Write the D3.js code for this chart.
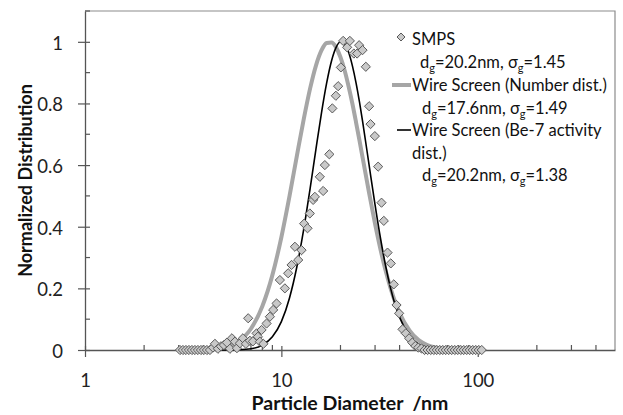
<!DOCTYPE html>
<html>
<head>
<meta charset="utf-8">
<script src="https://cdn.jsdelivr.net/npm/d3@7"></script>
<style>
  html, body { margin: 0; padding: 0; background: #fff; }
  svg { display: block; font-family: Lato, "Open Sans", sans-serif; }
</style>
</head>
<body>
<div id="chart"></div>
<script>
// SMPS measured points (diameter in nm, normalized value)
const smpsDiameter = [
  3.045, 3.153, 3.266, 3.383, 3.504, 3.629, 3.759, 3.894, 4.033, 4.177, 4.327,
  4.482, 4.587, 4.752, 4.922, 5.098, 5.280, 5.469, 5.599, 5.800, 5.937, 6.150,
  6.370, 6.597, 6.776, 6.914, 7.161, 7.478, 7.593, 7.773, 7.929, 8.098, 8.408,
  8.739, 9.084, 9.454, 9.827, 10.42, 10.83, 11.27, 11.72, 12.18, 12.67, 13.06,
  13.59, 13.96, 14.51, 14.81, 15.70, 16.32, 16.65, 17.55, 18.18, 18.94, 19.46,
  20.09, 20.64, 21.63, 22.32, 23.39, 24.31, 24.89, 25.90, 26.92, 27.98, 28.44,
  29.92, 31.10, 32.36, 33.24, 34.72, 36.08, 37.37, 38.58, 39.78, 41.39, 43.02,
  44.72, 46.42, 48.08, 49.80, 51.70, 53.56, 55.54, 57.59, 59.72, 61.85, 64.06,
  66.35, 68.72, 71.17, 73.72, 76.38, 79.11, 81.93, 84.87, 87.90, 91.06, 94.32,
  97.68, 101.2, 104.8
];
const smpsValue = [
  0, 0, 0, 0, 0, 0, 0, 0, 0, 0, 0,
  0.008, 0.020, 0.004, 0.012, 0.016, 0.024, 0.004, 0.038, 0.027, 0.006, 0.022,
  0.038, 0.020, 0.103, 0.030, 0.028, 0.054, 0.043, 0.027, 0.065, 0.020, 0.086,
  0.108, 0.130, 0.151, 0.227, 0.200, 0.249, 0.276, 0.335, 0.292, 0.324, 0.410,
  0.395, 0.443, 0.487, 0.497, 0.562, 0.516, 0.600, 0.635, 0.784, 0.825, 0.856,
  0.917, 1.003, 0.982, 1.003, 0.962, 0.962, 0.989, 0.973, 0.919, 0.791, 0.733,
  0.694, 0.595, 0.478, 0.419, 0.316, 0.281, 0.213, 0.146, 0.119, 0.067, 0.054,
  0.038, 0.024, 0.013, 0.008, 0.005, 0, 0, 0, 0, 0, 0,
  0, 0, 0, 0, 0, 0, 0, 0, 0, 0, 0,
  0, 0, 0
];

// fitted curves
const fitDiameter = [4, 5, 6, 7, 8, 9, 10, 11, 12, 13, 14, 15, 16, 17, 18, 19, 20,
  21, 22, 23, 24, 25, 26, 28, 30, 32, 34, 36, 38, 40, 45, 50, 55, 60, 70, 80, 100];
const numberDist = [0.001, 0.007, 0.026, 0.069, 0.142, 0.243, 0.366, 0.499, 0.631,
  0.749, 0.848, 0.923, 0.972, 0.996, 0.998, 0.982, 0.950, 0.907, 0.855, 0.799,
  0.739, 0.679, 0.620, 0.508, 0.409, 0.325, 0.256, 0.200, 0.155, 0.120, 0.063,
  0.032, 0.017, 0.009, 0.003, 0.001, 0];
const be7Dist = [0, 0, 0.001, 0.004, 0.016, 0.043, 0.092, 0.169, 0.271, 0.392,
  0.523, 0.652, 0.769, 0.866, 0.938, 0.982, 1.0, 0.993, 0.966, 0.922, 0.867,
  0.804, 0.736, 0.598, 0.471, 0.361, 0.271, 0.200, 0.146, 0.106, 0.046, 0.019,
  0.008, 0.003, 0.001, 0, 0];

const xMajorTicks = [1, 10, 100];
const xMinorTicks = [2, 3, 4, 5, 6, 7, 8, 9, 20, 30, 40, 50, 60, 70, 80, 90, 200, 300, 400];
const yMajorTicks = [0, 0.2, 0.4, 0.6, 0.8, 1];
const yMinorTicks = [0.1, 0.3, 0.5, 0.7, 0.9, 1.1];

const legendLines = [
  { label: "SMPS", dg: "20.2", sg: "1.45" },
  { label: "Wire Screen (Number dist.)", dg: "17.6", sg: "1.49" },
  { label: "Wire Screen (Be-7 activity", extra: "dist.)", dg: "20.2", sg: "1.38" }
];

const width = 623, height = 415;
const plot = { left: 85, right: 615, top: 11, bottom: 350 };

const svg = d3.select("#chart").append("svg")
  .attr("width", width)
  .attr("height", height);

const x = d3.scaleLog().domain([1, 500]).range([plot.left, plot.right]);
const y = d3.scaleLinear().domain([0, 1.1]).range([plot.bottom, plot.top]);

// plot frame (top + right in light gray)
svg.append("path")
  .attr("d", `M${plot.left},${plot.top}H${plot.right}V${plot.bottom}`)
  .attr("fill", "none")
  .attr("stroke", "#8c8c8c")
  .attr("stroke-width", 1.2);

// x axis
const xAxis = svg.append("g")
  .attr("transform", `translate(0,${plot.bottom})`)
  .call(d3.axisBottom(x).tickValues(xMajorTicks).tickFormat(d3.format("d"))
    .tickSizeInner(7).tickSizeOuter(0).tickPadding(17));
xAxis.select(".domain").attr("stroke", "#555").attr("stroke-width", 1.3);
xAxis.selectAll(".tick line").attr("y1", -4).attr("stroke", "#555").attr("stroke-width", 1.2);
xAxis.selectAll(".tick text").attr("font-size", 18.5).attr("fill", "#222")
  .attr("font-family", "Lato, sans-serif");
xAxis.selectAll(".minor").data(xMinorTicks).enter().append("line")
  .attr("class", "minor")
  .attr("x1", (d) => x(d)).attr("x2", (d) => x(d))
  .attr("y1", -5).attr("y2", 0)
  .attr("stroke", "#555").attr("stroke-width", 1.2);

// y axis
const yAxis = svg.append("g")
  .attr("transform", `translate(${plot.left},0)`)
  .call(d3.axisLeft(y).tickValues(yMajorTicks).tickFormat((d) => String(d))
    .tickSizeInner(7).tickSizeOuter(0).tickPadding(15));
yAxis.select(".domain").attr("stroke", "#555").attr("stroke-width", 1.3);
yAxis.selectAll(".tick line").attr("x1", 5).attr("stroke", "#555").attr("stroke-width", 1.2);
yAxis.selectAll(".tick text").attr("font-size", 18.5).attr("fill", "#222")
  .attr("font-family", "Lato, sans-serif").attr("dy", "0.4em");
yAxis.selectAll(".minor").data(yMinorTicks).enter().append("line")
  .attr("class", "minor")
  .attr("y1", (d) => y(d)).attr("y2", (d) => y(d))
  .attr("x1", 0).attr("x2", 5)
  .attr("stroke", "#555").attr("stroke-width", 1.2);

// axis titles
svg.append("text")
  .attr("x", (plot.left + plot.right) / 2)
  .attr("y", 410)
  .attr("text-anchor", "middle")
  .attr("font-size", 19.5)
  .attr("font-weight", "bold")
  .attr("fill", "#111")
  .style("white-space", "pre")
  .text("Particle Diameter  /nm");

svg.append("text")
  .attr("transform", `translate(32,${(plot.top + plot.bottom) / 2}) rotate(-90)`)
  .attr("text-anchor", "middle")
  .attr("font-size", 18)
  .attr("font-weight", "bold")
  .attr("fill", "#111")
  .text("Normalized Distribution");

// fitted curves
const line = (vals) => d3.line()
  .x((d, i) => x(fitDiameter[i]))
  .y((d) => y(d))
  .curve(d3.curveMonotoneX)(vals);

svg.append("path")
  .attr("d", line(numberDist))
  .attr("fill", "none")
  .attr("stroke", "#a6a6a6")
  .attr("stroke-width", 4);

svg.append("path")
  .attr("d", line(be7Dist))
  .attr("fill", "none")
  .attr("stroke", "#000")
  .attr("stroke-width", 1.6);

// SMPS diamonds
const diamond = (cx, cy, r) => `M${cx},${cy - r}L${cx + r},${cy}L${cx},${cy + r}L${cx - r},${cy}Z`;
svg.append("g").selectAll("path")
  .data(smpsDiameter)
  .enter().append("path")
  .attr("d", (d, i) => diamond(x(d), y(smpsValue[i]), 4.6))
  .attr("fill", "#c9c9c9")
  .attr("stroke", "#5a5a5a")
  .attr("stroke-width", 1);

// legend
const lg = svg.append("g").attr("font-size", 16.5).attr("fill", "#111");
const rowY = [39, 62, 85, 108, 130, 153, 175];

function paramLine(g, xPos, yPos, entry) {
  const t = g.append("text").attr("x", xPos).attr("y", yPos + 5);
  t.append("tspan").text("d");
  t.append("tspan").attr("font-size", 11).attr("dy", 4).text("g");
  t.append("tspan").attr("dy", -4).text(`=${entry.dg}nm, `);
  t.append("tspan").text("σ");
  t.append("tspan").attr("font-size", 11).attr("dy", 4).text("g");
  t.append("tspan").attr("dy", -4).text(`=${entry.sg}`);
}

lg.append("path")
  .attr("d", diamond(401, rowY[0] - 2, 4))
  .attr("fill", "#c9c9c9").attr("stroke", "#5a5a5a");
lg.append("text").attr("x", 412).attr("y", rowY[0] + 6).text(legendLines[0].label);
paramLine(lg, 420, rowY[1] + 1, legendLines[0]);

lg.append("line")
  .attr("x1", 392).attr("x2", 411).attr("y1", rowY[2]).attr("y2", rowY[2])
  .attr("stroke", "#a6a6a6").attr("stroke-width", 4);
lg.append("text").attr("x", 412).attr("y", rowY[2] + 6).text(legendLines[1].label);
paramLine(lg, 422, rowY[3] + 1, legendLines[1]);

lg.append("line")
  .attr("x1", 397).attr("x2", 411).attr("y1", rowY[4]).attr("y2", rowY[4])
  .attr("stroke", "#000").attr("stroke-width", 1.6);
lg.append("text").attr("x", 412).attr("y", rowY[4] + 6).text(legendLines[2].label);
lg.append("text").attr("x", 412).attr("y", rowY[5] + 6).text(legendLines[2].extra);
paramLine(lg, 422, rowY[6] + 1, legendLines[2]);
</script>
</body>
</html>
